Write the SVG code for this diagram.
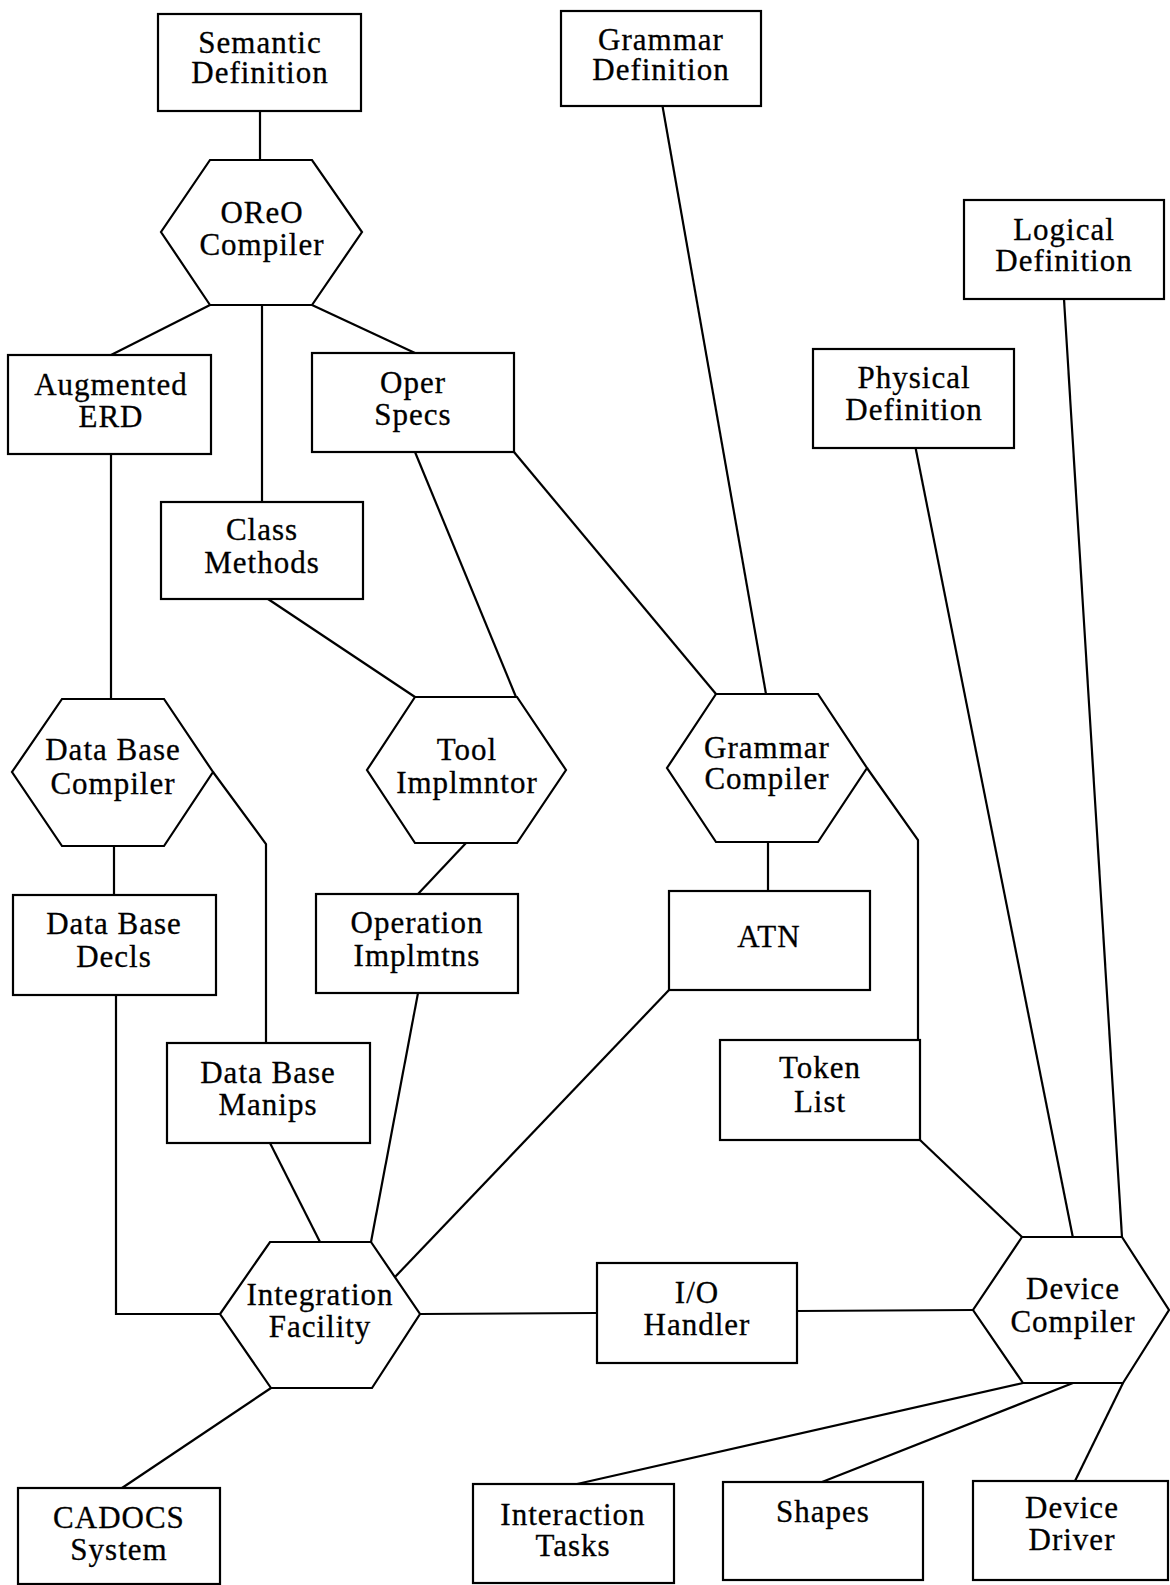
<svg xmlns="http://www.w3.org/2000/svg" width="1170" height="1585" viewBox="0 0 1170 1585">
  <style>
    .shape { fill: #fff; stroke: #000; stroke-width: 2.2; stroke-linejoin: miter; }
    .edge { fill: none; stroke: #000; stroke-width: 2.2; stroke-linejoin: miter; }
    .lbl { font-family: "Liberation Serif", "Times New Roman", serif; font-size: 31px; letter-spacing: 1px; text-anchor: middle; fill: #000; stroke: #000; stroke-width: 0.3; }
  </style>
  <rect x="0" y="0" width="1170" height="1585" fill="#fff"/>

  <!-- connectors -->
  <g id="connectors">
    <path class="edge" d="M260,111 L260,160"/>
    <path class="edge" d="M210,305 L111,355"/>
    <path class="edge" d="M262,305 L262,502"/>
    <path class="edge" d="M312,305 L415,353"/>
    <path class="edge" d="M111,454 L111,699"/>
    <path class="edge" d="M268,599 L415,697"/>
    <path class="edge" d="M415,452 L516,697"/>
    <path class="edge" d="M514,452 L716,694"/>
    <path class="edge" d="M662.5,106 L766,694"/>
    <path class="edge" d="M114,846 L114,895"/>
    <path class="edge" d="M213,772 L266,844 L266,1043"/>
    <path class="edge" d="M466,843 L418,894"/>
    <path class="edge" d="M768,842 L768,891"/>
    <path class="edge" d="M867,768 L918,840 L918,1040"/>
    <path class="edge" d="M116,995 L116,1314 L220,1314"/>
    <path class="edge" d="M270,1143 L320,1242"/>
    <path class="edge" d="M418,993 L371,1242"/>
    <path class="edge" d="M669,990 L395,1277"/>
    <path class="edge" d="M420,1314 L597,1313"/>
    <path class="edge" d="M797,1311 L973,1310"/>
    <path class="edge" d="M271,1388 L122,1488"/>
    <path class="edge" d="M920,1140 L1022,1237"/>
    <path class="edge" d="M915.6,448 L1072.8,1237"/>
    <path class="edge" d="M1064,299 L1122,1237"/>
    <path class="edge" d="M1023,1383 L577,1484"/>
    <path class="edge" d="M1073,1383 L822,1482"/>
    <path class="edge" d="M1123,1383 L1075,1481"/>
  </g>

  <!-- nodes -->
  <g id="semantic-definition">
    <rect class="shape" x="158" y="14" width="203" height="97"/>
    <text class="lbl" x="260" y="53">Semantic</text>
    <text class="lbl" x="260" y="83">Definition</text>
  </g>
  <g id="grammar-definition">
    <rect class="shape" x="561" y="11" width="200" height="95"/>
    <text class="lbl" x="661" y="50">Grammar</text>
    <text class="lbl" x="661" y="80">Definition</text>
  </g>
  <g id="logical-definition">
    <rect class="shape" x="964" y="200" width="200" height="99"/>
    <text class="lbl" x="1064" y="240">Logical</text>
    <text class="lbl" x="1064" y="271">Definition</text>
  </g>
  <g id="oreo-compiler">
    <polygon class="shape" points="210,160 312,160 362,232 312,305 210,305 161,232"/>
    <text class="lbl" x="262" y="223">OReO</text>
    <text class="lbl" x="262" y="255">Compiler</text>
  </g>
  <g id="physical-definition">
    <rect class="shape" x="813" y="349" width="201" height="99"/>
    <text class="lbl" x="914" y="388">Physical</text>
    <text class="lbl" x="914" y="420">Definition</text>
  </g>
  <g id="augmented-erd">
    <rect class="shape" x="8" y="355" width="203" height="99"/>
    <text class="lbl" x="111" y="395">Augmented</text>
    <text class="lbl" x="111" y="427">ERD</text>
  </g>
  <g id="oper-specs">
    <rect class="shape" x="312" y="353" width="202" height="99"/>
    <text class="lbl" x="413" y="393">Oper</text>
    <text class="lbl" x="413" y="425">Specs</text>
  </g>
  <g id="class-methods">
    <rect class="shape" x="161" y="502" width="202" height="97"/>
    <text class="lbl" x="262" y="540">Class</text>
    <text class="lbl" x="262" y="573">Methods</text>
  </g>
  <g id="data-base-compiler">
    <polygon class="shape" points="62,699 164,699 213,772 164,846 62,846 12,772"/>
    <text class="lbl" x="113" y="760">Data Base</text>
    <text class="lbl" x="113" y="794">Compiler</text>
  </g>
  <g id="tool-implmntor">
    <polygon class="shape" points="415,697 517,697 566,770 517,843 415,843 367,770"/>
    <text class="lbl" x="467" y="760">Tool</text>
    <text class="lbl" x="467" y="793">Implmntor</text>
  </g>
  <g id="grammar-compiler">
    <polygon class="shape" points="716,694 818,694 867,768 818,842 716,842 667,768"/>
    <text class="lbl" x="767" y="758">Grammar</text>
    <text class="lbl" x="767" y="789">Compiler</text>
  </g>
  <g id="data-base-decls">
    <rect class="shape" x="13" y="895" width="203" height="100"/>
    <text class="lbl" x="114" y="934">Data Base</text>
    <text class="lbl" x="114" y="967">Decls</text>
  </g>
  <g id="operation-implmtns">
    <rect class="shape" x="316" y="894" width="202" height="99"/>
    <text class="lbl" x="417" y="933">Operation</text>
    <text class="lbl" x="417" y="966">Implmtns</text>
  </g>
  <g id="atn">
    <rect class="shape" x="669" y="891" width="201" height="99"/>
    <text class="lbl" x="769" y="947">ATN</text>
  </g>
  <g id="token-list">
    <rect class="shape" x="720" y="1040" width="200" height="100"/>
    <text class="lbl" x="820" y="1078">Token</text>
    <text class="lbl" x="820" y="1112">List</text>
  </g>
  <g id="data-base-manips">
    <rect class="shape" x="167" y="1043" width="203" height="100"/>
    <text class="lbl" x="268" y="1083">Data Base</text>
    <text class="lbl" x="268" y="1115">Manips</text>
  </g>
  <g id="integration-facility">
    <polygon class="shape" points="270,1242 371,1242 420,1314 372,1388 271,1388 220,1314"/>
    <text class="lbl" x="320" y="1305">Integration</text>
    <text class="lbl" x="320" y="1337">Facility</text>
  </g>
  <g id="io-handler">
    <rect class="shape" x="597" y="1263" width="200" height="100"/>
    <text class="lbl" x="697" y="1303">I/O</text>
    <text class="lbl" x="697" y="1335">Handler</text>
  </g>
  <g id="device-compiler">
    <polygon class="shape" points="1022,1237 1122,1237 1169,1310 1123,1383 1023,1383 973,1310"/>
    <text class="lbl" x="1073" y="1299">Device</text>
    <text class="lbl" x="1073" y="1332">Compiler</text>
  </g>
  <g id="cadocs-system">
    <rect class="shape" x="18" y="1488" width="202" height="96"/>
    <text class="lbl" x="119" y="1528">CADOCS</text>
    <text class="lbl" x="119" y="1560">System</text>
  </g>
  <g id="interaction-tasks">
    <rect class="shape" x="473" y="1484" width="201" height="99"/>
    <text class="lbl" x="573" y="1525">Interaction</text>
    <text class="lbl" x="573" y="1556">Tasks</text>
  </g>
  <g id="shapes">
    <rect class="shape" x="723" y="1482" width="200" height="98"/>
    <text class="lbl" x="823" y="1522">Shapes</text>
  </g>
  <g id="device-driver">
    <rect class="shape" x="973" y="1481" width="195" height="99"/>
    <text class="lbl" x="1072" y="1518">Device</text>
    <text class="lbl" x="1072" y="1550">Driver</text>
  </g>
</svg>
